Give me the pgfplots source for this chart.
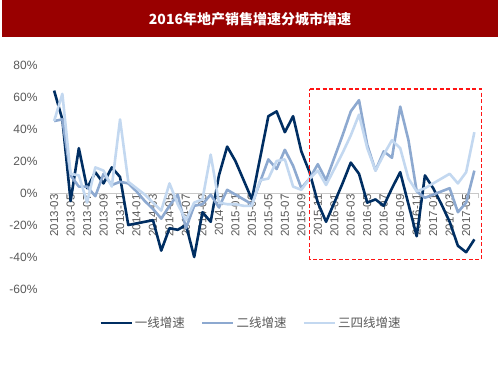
\documentclass[border=0pt]{standalone}
\usepackage{pgfplots}
\pgfplotsset{compat=1.18}
\usepackage{pgfplotstable}
\usepackage{fontspec}
\setmainfont{Liberation Sans}
\newfontfamily\cjk{Noto Sans CJK SC}
\definecolor{navy}{RGB}{0,46,98}
\definecolor{midblue}{RGB}{141,169,208}
\definecolor{lightblue}{RGB}{195,216,240}
\definecolor{titlered}{RGB}{153,0,0}
\definecolor{txtgray}{RGB}{89,89,89}
\definecolor{axgray}{RGB}{200,200,200}
\definecolor{boxred}{RGB}{255,20,20}

\pgfplotstableread{
x y
0 64
1 46
2 -5
3 28
4 3
5 13
6 6
7 16
8 10
9 -20
10 -19
11 -18
12 -17
13 -36
14 -22
15 -23
16 -20
17 -40
18 -12
19 -18
20 11
21 29
22 20
23 8
24 -4
25 22
26 48
27 51
28 38
29 48
30 26
31 13
32 -6
33 -18
34 -6
35 6
36 19
37 12
38 -6
39 -4
40 -8
41 3
42 13
43 -7
44 -27
45 11
46 3
47 -7
48 -18
49 -33
50 -37
51 -29
}\tierone

\pgfplotstableread{
x y
0 45
1 46
2 11
3 4
4 4
5 -2
6 12
7 5
8 7
9 6
10 1
11 -5
12 -10
13 -16
14 -8
15 -1
16 -22
17 -8
18 -7
19 -1
20 -9
21 2
22 -1
23 -4
24 -7
25 7
26 21
27 15
28 27
29 17
30 3
31 9
32 18
33 8
34 22
35 36
36 51
37 58
38 30
39 14
40 26
41 22
42 54
43 33
44 1
45 -3
46 -1
47 1
48 3
49 -12
50 -6
51 14
}\tiertwo

\pgfplotstableread{
x y
0 45
1 62
2 12
3 11
4 -6
5 16
6 14
7 4
8 46
9 7
10 3
11 -1
12 -6
13 -11
14 6
15 -7
16 -17
17 -6
18 -4
19 24
20 -6
21 -7
22 -7
23 -8
24 -8
25 8
26 9
27 20
28 21
29 4
30 2
31 9
32 14
33 5
34 15
35 25
36 36
37 49
38 28
39 14
40 24
41 33
42 28
43 9
44 1
45 3
46 6
47 9
48 12
49 6
50 13
51 38
}\tierthree

\begin{document}
\begin{tikzpicture}
\path[use as bounding box] (0pt,0pt) rectangle (500pt,-375pt);
\fill[titlered] (2pt,0pt) rectangle (498pt,-37pt);
\node[text=white, font=\cjk\fontsize{14}{16}\selectfont\bfseries] at (250pt,-19pt) {2016年地产销售增速分城市增速};
\begin{axis}[
  at={(50pt,-289pt)}, anchor=south west,
  scale only axis, width=428.5pt, height=224pt,
  xmin=-0.5, xmax=51.5, ymin=-60, ymax=80,
  clip=false,
  axis x line=middle, axis y line=left,
  x axis line style={-, draw=axgray, line width=0.8pt},
  y axis line style={-, draw=none},
  tick align=outside,
  major tick length=5pt,
  xtick={-0.5,1.5,...,51.5},
  xticklabels={},
  xtick style={draw=axgray, line width=0.8pt},
  extra x ticks={0,2,...,50},
  extra x tick labels={2013-03,2013-05,2013-07,2013-09,2013-11,2014-01,2014-03,2014-05,2014-07,2014-09,2014-11,2015-01,2015-03,2015-05,2015-07,2015-09,2015-11,2016-01,2016-03,2016-05,2016-07,2016-09,2016-11,2017-01,2017-03,2017-05},
  extra x tick style={tick style={draw=none}, major tick length=0pt},
  xticklabel style={font=\fontsize{11.5}{12}\selectfont, text=txtgray, rotate=90, anchor=east, inner sep=1pt},
  ytick={-60,-40,...,80},
  yticklabels={-60\%,-40\%,-20\%,0\%,20\%,40\%,60\%,80\%},
  ytick style={draw=none},
  yticklabel style={font=\fontsize{12}{13}\selectfont, text=txtgray, xshift=-4pt},
  legend style={at={(0.469,-0.152)}, anchor=center, draw=none, fill=none,
    font=\cjk\fontsize{12.5}{14}\selectfont, text=txtgray,
    /tikz/every even column/.append style={column sep=14pt}},
  legend columns=3,
  legend image code/.code={\draw[#1] (0pt,0pt) -- (31pt,0pt);},
]
\addplot[navy, line width=2.6pt, line join=round, no markers] table[x=x,y=y] {\tierone};
\addlegendentry{一线增速}
\addplot[midblue, line width=2.6pt, line join=round, no markers] table[x=x,y=y] {\tiertwo};
\addlegendentry{二线增速}
\addplot[lightblue, line width=2.6pt, line join=round, no markers] table[x=x,y=y] {\tierthree};
\addlegendentry{三四线增速}
\addplot[boxred, line width=1.6pt, dash pattern=on 4pt off 2.5pt, no markers, forget plot] coordinates {(31,65) (51.85,65) (51.85,-41.5) (31,-41.5) (31,65)};
\end{axis}
\end{tikzpicture}
\end{document}
